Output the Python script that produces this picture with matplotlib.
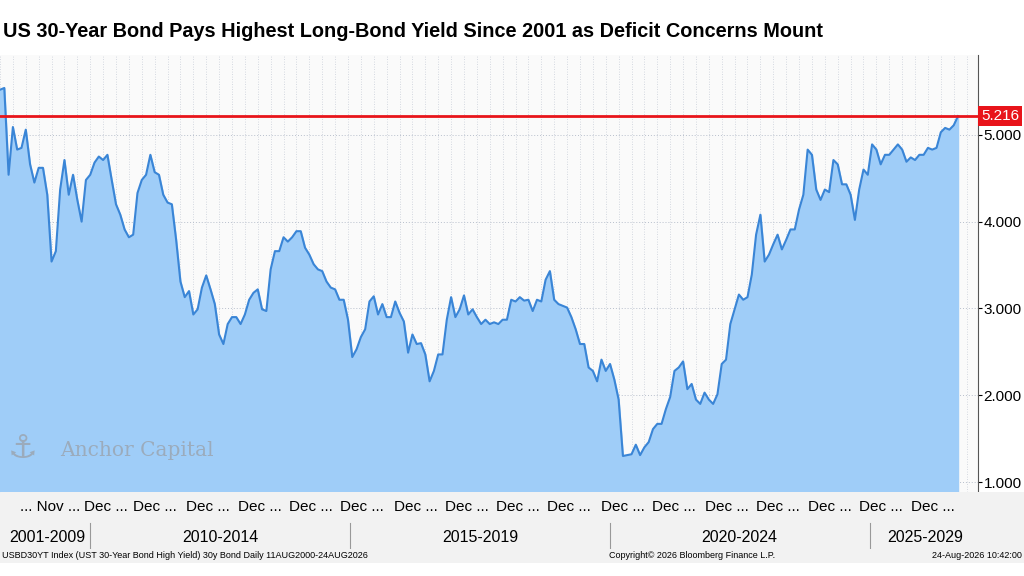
import numpy as np
import matplotlib.pyplot as plt

# Yields, in sequence
yields = [5.52, 5.54, 4.54, 5.09, 4.83, 4.85, 5.06, 4.66, 4.45, 4.62, 4.62, 4.31, 3.54, 3.66, 4.37, 4.71,
          4.31, 4.54, 4.25, 4.00, 4.48, 4.54, 4.68, 4.75, 4.71, 4.77, 4.48, 4.20, 4.08, 3.91, 3.82, 3.85,
          4.33, 4.48, 4.54, 4.77, 4.57, 4.54, 4.31, 4.22, 4.20, 3.79, 3.31, 3.13, 3.20, 2.93, 2.99, 3.24,
          3.38, 3.22, 3.05, 2.70, 2.59, 2.82, 2.90, 2.90, 2.82, 2.93, 3.10, 3.18, 3.22, 2.99, 2.97, 3.45,
          3.66, 3.66, 3.82, 3.77, 3.82, 3.89, 3.89, 3.70, 3.62, 3.51, 3.45, 3.43, 3.31, 3.24, 3.22, 3.10,
          3.10, 2.87, 2.44, 2.53, 2.67, 2.76, 3.08, 3.14, 2.93, 3.05, 2.90, 2.90, 3.08, 2.95, 2.85, 2.49,
          2.70, 2.59, 2.60, 2.47, 2.16, 2.28, 2.47, 2.47, 2.87, 3.13, 2.90, 2.99, 3.15, 2.93, 2.99, 2.90,
          2.82, 2.87, 2.82, 2.84, 2.82, 2.87, 2.87, 3.10, 3.08, 3.13, 3.09, 3.10, 2.97, 3.10, 3.08, 3.33,
          3.43, 3.10, 3.05, 3.03, 3.01, 2.90, 2.76, 2.59, 2.59, 2.32, 2.28, 2.16, 2.41, 2.28, 2.36, 2.18,
          1.95, 1.30, 1.31, 1.32, 1.43, 1.31, 1.40, 1.46, 1.61, 1.67, 1.67, 1.84, 1.98, 2.28, 2.32, 2.39,
          2.07, 2.13, 1.95, 1.90, 2.03, 1.95, 1.90, 2.01, 2.36, 2.41, 2.82, 2.99, 3.16, 3.10, 3.13, 3.39,
          3.85, 4.08, 3.54, 3.62, 3.74, 3.85, 3.68, 3.79, 3.91, 3.91, 4.14, 4.31, 4.83, 4.77, 4.37, 4.25,
          4.37, 4.34, 4.71, 4.66, 4.43, 4.43, 4.31, 4.02, 4.37, 4.60, 4.54, 4.89, 4.83, 4.66, 4.77, 4.77,
          4.83, 4.89, 4.83, 4.69, 4.74, 4.71, 4.77, 4.77, 4.85, 4.83, 4.85, 5.03, 5.08, 5.06, 5.11, 5.216]
last_yield = 5.216

# month tick labels (position as fraction of the data span)
month_pos = [0.052, 0.110, 0.162, 0.217, 0.271, 0.324, 0.378, 0.434, 0.487, 0.541, 0.594, 0.650,
             0.703, 0.759, 0.812, 0.866, 0.919, 0.974]
month_labels = ["... Nov ..."] + ["Dec ..."] * 17
period_labels = ["2001-2009", "2010-2014", "2015-2019", "2020-2024", "2025-2029"]
period_pos = [0.049, 0.230, 0.501, 0.772, 0.966]
period_bounds = [0.094, 0.365, 0.637, 0.908]

plt.rcParams['font.family'] = ['Liberation Sans', 'DejaVu Sans']

n = len(yields)
x = np.arange(n)
span = n - 1

fig = plt.figure(figsize=(10.24, 5.76), dpi=100)
fig.patch.set_facecolor("white")
ax = fig.add_axes([0, 84 / 576, 978 / 1024, 437 / 576])
ax.set_facecolor("#fafafa")

ax.fill_between(x, yields, 0, color="#9fcdf8", zorder=2)
ax.plot(x, yields, color="#3a85d6", lw=1.5, zorder=3)
ax.axhline(last_yield, color="#e8141a", lw=2, zorder=4)

xmax = span * 978 / 958
ax.set_xlim(0, xmax)
ax.set_ylim(0.885, 5.92)

# grid
for gx in np.arange(0, xmax, 3):
    ax.axvline(gx, color="#c8cdd8", lw=0.6, ls=(0, (1, 2)), zorder=1)
for gy in [1, 2, 3, 4, 5]:
    ax.axhline(gy, color="#b8bfcc", lw=0.7, ls=(0, (1, 2)), zorder=1)

ax.yaxis.tick_right()
ax.set_yticks([1, 2, 3, 4, 5])
ax.set_yticklabels(["1.000", "2.000", "3.000", "4.000", "5.000"], fontsize=11)
ax.tick_params(axis="y", length=3, pad=1)
ax.set_xticks([])
for s in ["top", "left", "bottom"]:
    ax.spines[s].set_visible(False)
ax.spines["right"].set_color("#555555")

ax.text(xmax * 1.003, last_yield, "5.216", color="white", fontsize=11, va="center", ha="left",
        bbox=dict(boxstyle="square,pad=0.2", fc="#e8141a", ec="none"), zorder=6, clip_on=False)

# watermark
ax.text(span * 60 / 958, 1.3, "Anchor Capital", fontsize=14.5, color="#9aa3ad",
        family="DejaVu Serif", alpha=0.8, zorder=5)
ax.text(span * 8 / 958, 1.28, "⚓", fontsize=24, color="#9aa3ad", alpha=0.8, zorder=5,
        family="DejaVu Sans")

# bottom band
band = fig.add_axes([0, 27 / 576, 1, 57 / 576])
band.set_xlim(0, 1024)
band.set_ylim(0, 57)
band.axis("off")
band.add_patch(plt.Rectangle((0, 0), 1024, 57, color="#f2f2f2"))
for p, lab in zip(month_pos, month_labels):
    band.text(p * 958, 42, lab, ha="center", va="center", fontsize=11)
for p, lab in zip(period_pos, period_labels):
    band.text(p * 958, 12, lab, ha="center", va="center", fontsize=11.5)
for b in period_bounds:
    band.plot([b * 958, b * 958], [0, 26], color="#999999", lw=0.8)

foot = fig.add_axes([0, 13 / 576, 1, 14 / 576])
foot.set_xlim(0, 1024)
foot.set_ylim(0, 1)
foot.axis("off")
foot.add_patch(plt.Rectangle((0, 0), 1024, 1, color="#f2f2f2"))
foot.text(2, 0.5, "USBD30YT Index (UST 30-Year Bond High Yield) 30y Bond Daily 11AUG2000-24AUG2026",
          fontsize=6.5, va="center")
foot.text(692, 0.5, "Copyright© 2026 Bloomberg Finance L.P.", fontsize=6.5, va="center", ha="center")
foot.text(1022, 0.5, "24-Aug-2026 10:42:00", fontsize=6.5, va="center", ha="right")

fig.text(0.003, 0.945, "US 30-Year Bond Pays Highest Long-Bond Yield Since 2001 as Deficit Concerns Mount",
         fontsize=14.3, fontweight="bold", va="center")

fig.savefig("out.png", dpi=100)
